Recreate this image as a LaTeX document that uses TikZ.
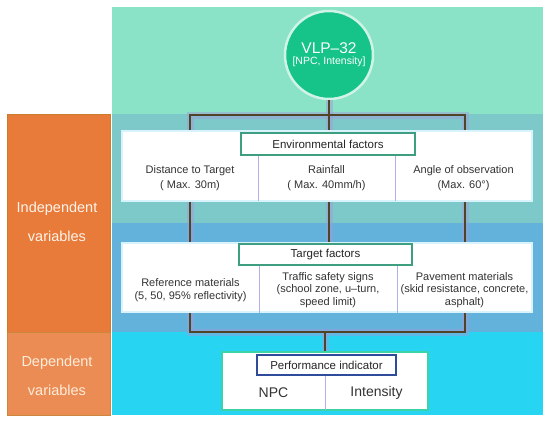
\documentclass[tikz,border=0pt]{standalone}
\usepackage{fontspec}
\setmainfont{Liberation Sans}
\usetikzlibrary{positioning,calc}

\definecolor{bandgreen}{HTML}{8AE3C6}
\definecolor{bandteal}{HTML}{7DC9CA}
\definecolor{bandblue}{HTML}{62B2DC}
\definecolor{bandcyan}{HTML}{27D4F2}
\definecolor{orangedark}{HTML}{E87A3A}
\definecolor{orangelight}{HTML}{EC8C55}
\definecolor{circlegreen}{HTML}{16C388}
\definecolor{headgreen}{HTML}{3E9E80}
\definecolor{headblue}{HTML}{2E4C9A}
\definecolor{perfedge}{HTML}{3CD3A8}
\definecolor{wire}{HTML}{4F4526}
\definecolor{shade}{HTML}{A09CD8}
\definecolor{ink}{HTML}{333333}

\begin{document}
\begin{tikzpicture}[
    x=1pt, y=-1pt,
    band/.style={fill=#1, draw=none},
    card/.style={draw=white!85!cyan, fill=white, line width=1.2pt, inner sep=0pt},
    head/.style={draw=headgreen, fill=white, line width=1.6pt, inner sep=0pt, font=\fontsize{11.5}{13}\selectfont, text=black!85},
    cell/.style={inner sep=0pt, align=center, text=ink},
    divider/.style={draw=gray!45!blue!40, line width=0.7pt},
    wireline/.style={draw=wire, line width=1.1pt},
    wireshade/.style={draw=shade, line width=7pt, opacity=0.5},
    side/.style={align=center, font=\fontsize{14.5}{29}\selectfont}
  ]
    \useasboundingbox (0,0) rectangle (550,424);
    \fill[white] (0,0) rectangle (550,424);

    % background bands
    \fill[band=bandgreen] (112,7)   rectangle (543,114);
    \fill[band=bandteal]  (112,114) rectangle (543,223);
    \fill[band=bandblue]  (112,223) rectangle (543,332);
    \fill[band=bandcyan]  (112,332) rectangle (543,415);
    \draw[fill=orangedark, draw=orangedark!70!olive, line width=0.8pt]  (7,114) rectangle (110,332);
    \draw[fill=orangelight, draw=orangelight!70!olive, line width=0.8pt] (7,332) rectangle (110,415);

    \node[side, text=white!92!orange] (indep) at (57,222) {Independent\\variables};
    \node[side, text=white!85!orange] (dep)   at (57,376) {Dependent\\variables};

    % sensor
    \node[circle, fill=circlegreen, draw=white!80!circlegreen, line width=2.5pt,
          minimum size=88pt, inner sep=0pt, align=center, text=white] (vlp) at (329,55)
          {{\fontsize{15.5}{18}\selectfont VLP--32}\\[-1pt]{\fontsize{10.5}{12}\selectfont [NPC, Intensity]}};

    \coordinate (brTL) at (190,115);
    \coordinate (brBR) at (465,332);
    \coordinate (tgtTop) at (329,243);

    % wires
    \draw[wireshade] (vlp.south) -- (tgtTop);
    \draw[wireshade] (brTL) rectangle (brBR);
    \draw[wireshade] (325,352) -- (325,332);
    \draw[wireline] (vlp.south) -- (tgtTop);
    \draw[wireline] (brTL) rectangle (brBR);

    % environmental factors
    \node[card, minimum width=410pt, minimum height=70pt] (env) at (327,166) {};
    \node[cell, minimum width=136pt, minimum height=46pt, font=\fontsize{11}{15}\selectfont] (dist)  at (190,178)   {Distance to Target\\( Max. 30m)};
    \node[cell, minimum width=137pt, minimum height=46pt, font=\fontsize{11}{15}\selectfont] (rain)  at (326.5,178) {Rainfall\\( Max. 40mm/h)};
    \node[cell, minimum width=137pt, minimum height=46pt, font=\fontsize{11}{15}\selectfont] (angle) at (463.5,178) {Angle of observation\\(Max. 60°)};
    \draw[divider] (dist.north east) -- (dist.south east);
    \draw[divider] (rain.north east) -- (rain.south east);
    \node[head, minimum width=174pt, minimum height=22pt] (envhead) at (328,144) {Environmental factors};

    % target factors
    \node[card, minimum width=410pt, minimum height=69pt] (tgt) at (327,277.5) {};
    \node[cell, minimum width=137pt, minimum height=47pt, font=\fontsize{11}{12.5}\selectfont] (refmat)  at (190.5,290)  {Reference materials\\(5, 50, 95\% reflectivity)};
    \node[cell, minimum width=138pt, minimum height=47pt, font=\fontsize{11}{12.5}\selectfont] (signs)   at (328,290)    {Traffic safety signs\\(school zone, u--turn,\\speed limit)};
    \node[cell, minimum width=135pt, minimum height=47pt, font=\fontsize{11}{12.5}\selectfont] (pavmat)  at (464.5,290)  {Pavement materials\\(skid resistance, concrete,\\asphalt)};
    \draw[divider] (refmat.north east) -- (refmat.south east |- tgt.south);
    \draw[divider] (signs.north east) -- (signs.south east |- tgt.south);
    \node[head, minimum width=173pt, minimum height=21pt] (tgthead) at (325.5,254.5) {Target factors};

    % performance indicator
    \node[card, draw=perfedge, line width=1.8pt, minimum width=206pt, minimum height=58pt] (perf) at (325,381) {};
    \draw[wireline] (perf.north) -- (perf.north |- brBR);
    \node[cell, minimum width=103pt, minimum height=35pt, font=\fontsize{14}{16}\selectfont] (npc)   at (273.5,392.5) {NPC};
    \node[cell, minimum width=103pt, minimum height=35pt, font=\fontsize{14}{16}\selectfont] (inten) at (376.5,392.5) {Intensity};
    \draw[divider] (npc.north east) -- (npc.south east);
    \node[head, draw=headblue, minimum width=139pt, minimum height=20pt] (perfhead) at (326.5,365) {Performance indicator};
\end{tikzpicture}
\end{document}
